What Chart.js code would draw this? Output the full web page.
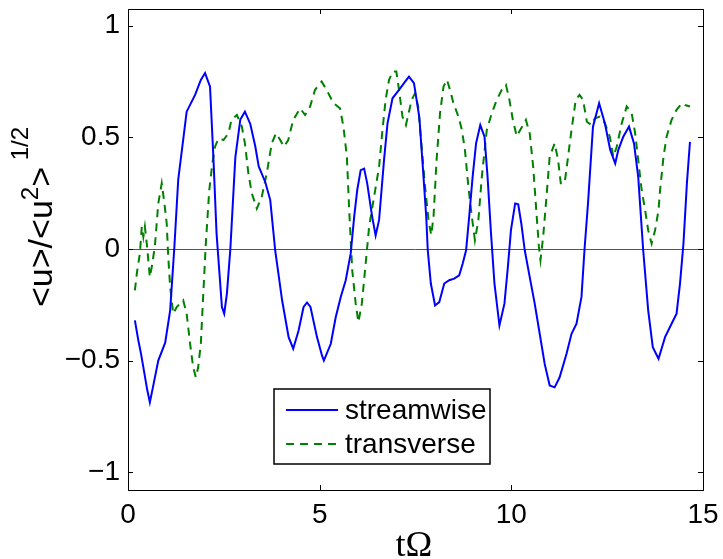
<!DOCTYPE html>
<html>
<head>
<meta charset="utf-8">
<script src="https://cdn.jsdelivr.net/npm/chart.js@4.4.1/dist/chart.umd.min.js"></script>
<style>
  html, body { margin: 0; padding: 0; background: #fff; }
  #wrap { width: 723px; height: 559px; }
</style>
</head>
<body>
<div id="wrap"><canvas id="c" width="723" height="559"></canvas></div>
<script>
const streamT = [0.18, 0.27, 0.34, 0.42, 0.5, 0.57, 0.65, 0.79, 0.97, 1.1, 1.21, 1.31, 1.44, 1.53, 1.75, 1.9, 2.01, 2.14, 2.23, 2.31, 2.45, 2.51, 2.58, 2.67, 2.8, 2.93, 3.05, 3.19, 3.32, 3.41, 3.58, 3.71, 3.84, 4.02, 4.19, 4.31, 4.45, 4.58, 4.67, 4.76, 4.93, 5.06, 5.11, 5.29, 5.42, 5.55, 5.68, 5.81, 5.9, 5.98, 6.07, 6.16, 6.24, 6.37, 6.46, 6.55, 6.68, 6.77, 6.9, 7.07, 7.2, 7.33, 7.46, 7.6, 7.69, 7.78, 7.82, 7.9, 8.01, 8.12, 8.25, 8.38, 8.51, 8.64, 8.73, 8.82, 8.9, 8.99, 9.08, 9.19, 9.3, 9.38, 9.47, 9.56, 9.69, 9.82, 9.91, 9.99, 10.1, 10.18, 10.26, 10.35, 10.48, 10.61, 10.74, 10.87, 11.0, 11.13, 11.26, 11.44, 11.57, 11.7, 11.83, 11.91, 12.0, 12.13, 12.29, 12.44, 12.58, 12.71, 12.79, 12.92, 13.07, 13.2, 13.31, 13.44, 13.57, 13.69, 13.84, 14.01, 14.18, 14.31, 14.4, 14.49, 14.58, 14.66];
const streamU = [-0.32, -0.41, -0.47, -0.55, -0.63, -0.687, -0.62, -0.5, -0.42, -0.275, 0.01, 0.31, 0.49, 0.615, 0.69, 0.757, 0.788, 0.727, 0.4, 0.07, -0.26, -0.29, -0.2, 0.0, 0.41, 0.58, 0.615, 0.56, 0.46, 0.37, 0.3, 0.22, -0.006, -0.23, -0.395, -0.447, -0.365, -0.26, -0.24, -0.26, -0.395, -0.477, -0.5, -0.425, -0.305, -0.215, -0.14, -0.02, 0.144, 0.264, 0.353, 0.36, 0.294, 0.144, 0.06, 0.13, 0.4, 0.563, 0.675, 0.713, 0.743, 0.772, 0.743, 0.59, 0.37, 0.144, -0.006, -0.155, -0.253, -0.238, -0.155, -0.14, -0.133, -0.118, -0.066, -0.006, 0.144, 0.323, 0.473, 0.555, 0.503, 0.323, 0.069, -0.155, -0.343, -0.245, -0.08, 0.084, 0.204, 0.2, 0.114, -0.006, -0.126, -0.245, -0.38, -0.515, -0.612, -0.62, -0.575, -0.47, -0.38, -0.335, -0.215, 0.0, 0.204, 0.548, 0.653, 0.563, 0.443, 0.383, 0.443, 0.503, 0.548, 0.473, 0.323, -0.006, -0.275, -0.44, -0.492, -0.395, -0.335, -0.29, -0.155, 0.024, 0.294, 0.48];

const transT = [0.18, 0.23, 0.31, 0.36, 0.4, 0.44, 0.49, 0.57, 0.62, 0.7, 0.79, 0.88, 0.95, 1.01, 1.05, 1.1, 1.18, 1.27, 1.44, 1.53, 1.62, 1.7, 1.77, 1.83, 1.9, 1.96, 2.03, 2.12, 2.2, 2.27, 2.36, 2.49, 2.62, 2.7, 2.84, 2.97, 3.05, 3.14, 3.23, 3.36, 3.49, 3.62, 3.75, 3.86, 3.97, 4.07, 4.18, 4.31, 4.49, 4.62, 4.75, 4.88, 5.05, 5.18, 5.36, 5.53, 5.62, 5.71, 5.77, 5.85, 5.94, 6.01, 6.1, 6.2, 6.29, 6.42, 6.55, 6.63, 6.72, 6.81, 6.91, 7.0, 7.07, 7.16, 7.25, 7.4, 7.49, 7.57, 7.66, 7.75, 7.84, 7.91, 7.97, 8.05, 8.14, 8.23, 8.32, 8.4, 8.49, 8.62, 8.71, 8.79, 8.88, 8.97, 9.05, 9.14, 9.23, 9.36, 9.49, 9.62, 9.75, 9.86, 9.95, 10.04, 10.14, 10.38, 10.48, 10.57, 10.65, 10.72, 10.76, 10.83, 10.91, 11.0, 11.13, 11.22, 11.29, 11.39, 11.48, 11.57, 11.68, 11.78, 11.87, 11.97, 12.09, 12.18, 12.31, 12.44, 12.57, 12.66, 12.75, 12.88, 13.01, 13.14, 13.23, 13.31, 13.4, 13.49, 13.57, 13.66, 13.75, 13.84, 13.88, 13.97, 14.05, 14.18, 14.31, 14.45, 14.53, 14.66];
const transU = [-0.186, -0.11, -0.02, 0.1, 0.054, 0.1, 0.024, -0.126, -0.08, 0.01, 0.204, 0.294, 0.204, 0.114, -0.036, -0.17, -0.29, -0.26, -0.23, -0.29, -0.425, -0.53, -0.575, -0.53, -0.425, -0.215, 0.024, 0.264, 0.383, 0.458, 0.495, 0.488, 0.518, 0.578, 0.6, 0.548, 0.473, 0.339, 0.249, 0.181, 0.234, 0.339, 0.473, 0.518, 0.488, 0.458, 0.488, 0.578, 0.63, 0.6, 0.638, 0.713, 0.75, 0.713, 0.653, 0.63, 0.548, 0.413, 0.174, -0.096, -0.245, -0.328, -0.245, -0.066, 0.1, 0.234, 0.368, 0.518, 0.668, 0.758, 0.795, 0.795, 0.713, 0.593, 0.555, 0.668, 0.698, 0.638, 0.458, 0.278, 0.129, 0.062, 0.144, 0.398, 0.608, 0.727, 0.758, 0.713, 0.653, 0.593, 0.533, 0.443, 0.278, 0.144, 0.039, 0.129, 0.323, 0.533, 0.608, 0.668, 0.713, 0.735, 0.668, 0.578, 0.505, 0.578, 0.518, 0.368, 0.174, 0.009, -0.05, 0.054, 0.219, 0.413, 0.473, 0.398, 0.294, 0.294, 0.413, 0.533, 0.668, 0.69, 0.668, 0.57, 0.555, 0.585, 0.593, 0.563, 0.503, 0.413, 0.458, 0.563, 0.638, 0.608, 0.518, 0.398, 0.264, 0.174, 0.084, 0.024, 0.084, 0.174, 0.264, 0.413, 0.503, 0.578, 0.623, 0.653, 0.645, 0.638];

const xTicks = [0, 5, 10, 15];
const yTicks = [-1, -0.5, 0, 0.5, 1];
const seriesNames = ["streamwise", "transverse"];

const BLUE = "#0000ff";
const GREEN = "#008000";
const SANS = "'Liberation Sans', Arial, sans-serif";
const SERIF = "'Liberation Serif', 'Times New Roman', serif";

const toPts = (xs, ys) => xs.map((x, i) => ({ x: x, y: ys[i] }));
const fmt = (v) => String(v).replace("-", "\u2212");

// MATLAB-style box, inward ticks, zero line, legend and y label
const matlabFrame = {
  id: "matlabFrame",
  beforeDatasetsDraw(chart) {
    const { ctx, chartArea: a, scales } = chart;
    const y0 = Math.round(scales.y.getPixelForValue(0)) + 0.5;
    ctx.save();
    ctx.strokeStyle = "#555";
    ctx.lineWidth = 1;
    ctx.beginPath();
    ctx.moveTo(a.left, y0);
    ctx.lineTo(a.right, y0);
    ctx.stroke();
    ctx.restore();
  },
  afterDraw(chart) {
    const { ctx, chartArea: a, scales } = chart;
    ctx.save();
    ctx.strokeStyle = "#000";
    ctx.lineWidth = 1;
    ctx.strokeRect(a.left + 0.5, a.top + 0.5, a.right - a.left, a.bottom - a.top);
    const tl = 5;
    ctx.beginPath();
    xTicks.forEach((v) => {
      const px = Math.round(scales.x.getPixelForValue(v)) + 0.5;
      ctx.moveTo(px, a.bottom); ctx.lineTo(px, a.bottom - tl);
      ctx.moveTo(px, a.top); ctx.lineTo(px, a.top + tl);
    });
    yTicks.forEach((v) => {
      const py = Math.round(scales.y.getPixelForValue(v)) + 0.5;
      ctx.moveTo(a.left, py); ctx.lineTo(a.left + tl, py);
      ctx.moveTo(a.right, py); ctx.lineTo(a.right - tl, py);
    });
    ctx.stroke();

    // legend
    const lx = 274, ly = 389, lw = 216, lh = 75;
    ctx.fillStyle = "#fff";
    ctx.fillRect(lx, ly, lw, lh);
    ctx.lineWidth = 1.5;
    ctx.strokeRect(lx, ly, lw, lh);
    const rows = [
      { name: seriesNames[0], color: BLUE, dash: [], y: 410 },
      { name: seriesNames[1], color: GREEN, dash: [8, 6], y: 444 }
    ];
    rows.forEach((r) => {
      ctx.strokeStyle = r.color;
      ctx.lineWidth = 2;
      ctx.setLineDash(r.dash);
      ctx.beginPath();
      ctx.moveTo(286, r.y);
      ctx.lineTo(338, r.y);
      ctx.stroke();
      ctx.setLineDash([]);
      ctx.fillStyle = "#000";
      ctx.font = "28px " + SANS;
      ctx.textBaseline = "middle";
      ctx.textAlign = "left";
      ctx.fillText(r.name, 345, r.y + 1);
    });

    // y axis label with superscripts
    const big = "34px " + SANS, small = "24px " + SANS;
    const parts = [
      { t: "<u>/<u", f: big, dy: 0 },
      { t: "2", f: small, dy: -14 },
      { t: ">", f: big, dy: 0 },
      { t: " 1/2", f: small, dy: -24 }
    ];
    let total = 0;
    parts.forEach((p) => { ctx.font = p.f; p.w = ctx.measureText(p.t).width; total += p.w; });
    ctx.translate(52, 217);
    ctx.rotate(-Math.PI / 2);
    ctx.fillStyle = "#000";
    ctx.textAlign = "left";
    ctx.textBaseline = "alphabetic";
    let x = -total / 2;
    parts.forEach((p) => { ctx.font = p.f; ctx.fillText(p.t, x, p.dy); x += p.w; });
    ctx.setTransform(1, 0, 0, 1, 0, 0);

    // x axis label
    ctx.font = "36px " + SERIF;
    ctx.textAlign = "center";
    ctx.fillText("t\u03A9", 414, 556);
    ctx.restore();
  }
};

new Chart(document.getElementById("c").getContext("2d"), {
  type: "line",
  data: {
    datasets: [
      {
        label: seriesNames[0],
        data: toPts(streamT, streamU),
        borderColor: BLUE,
        borderWidth: 2,
        pointRadius: 0,
        tension: 0,
        fill: false
      },
      {
        label: seriesNames[1],
        data: toPts(transT, transU),
        borderColor: GREEN,
        borderWidth: 2,
        borderDash: [8, 6],
        pointRadius: 0,
        tension: 0,
        fill: false
      }
    ]
  },
  options: {
    responsive: false,
    animation: false,
    layout: { padding: { top: 9, right: 20, left: 0, bottom: 0 } },
    plugins: { legend: { display: false }, tooltip: { enabled: false } },
    scales: {
      x: {
        type: "linear",
        min: 0,
        max: 15,
        grid: { display: false },
        border: { display: false },
        afterBuildTicks: (s) => { s.ticks = xTicks.map((v) => ({ value: v })); },
        afterFit: (s) => { s.height = 69; s.paddingLeft = 0; s.paddingRight = 0; },
        ticks: { color: "#000", font: { family: SANS, size: 28 }, padding: 0, maxRotation: 0, callback: (v) => fmt(v) }
      },
      y: {
        min: -1.08,
        max: 1.075,
        grid: { display: false },
        border: { display: false },
        afterBuildTicks: (s) => { s.ticks = yTicks.map((v) => ({ value: v })); },
        afterFit: (s) => { s.width = 128; s.paddingTop = 0; s.paddingBottom = 0; },
        ticks: { color: "#000", font: { family: SANS, size: 28 }, padding: 0, callback: (v) => fmt(v) }
      }
    }
  },
  plugins: [matlabFrame]
});
</script>
</body>
</html>
